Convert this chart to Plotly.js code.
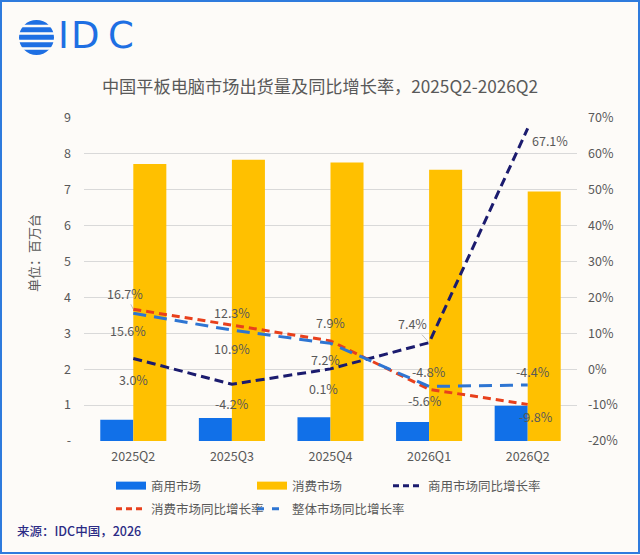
<!DOCTYPE html>
<html><head><meta charset="utf-8">
<script src="https://cdn.plot.ly/plotly-3.0.1.min.js"></script>
<style>html,body{margin:0;padding:0;background:#FDFBF8}#chart{width:640px;height:555px}</style>
</head><body><div id="chart"></div>
<script>
// ---- data ----
const categories = ['2025Q2', '2025Q3', '2025Q4', '2026Q1', '2026Q2'];
const commercialUnits = [0.59, 0.64, 0.66, 0.53, 0.98];
const consumerUnits = [7.72, 7.84, 7.76, 7.56, 6.95];
const commercialYoY = [3.0, -4.2, 0.1, 7.4, 67.1];
const consumerYoY = [16.7, 12.3, 7.9, -5.6, -9.8];
const totalYoY = [15.6, 10.9, 7.2, -4.8, -4.4];
const leftTickVals = [0, 1, 2, 3, 4, 5, 6, 7, 8, 9];
const leftTickText = ['-', '1', '2', '3', '4', '5', '6', '7', '8', '9'];
const rightTickVals = [-20, -10, 0, 10, 20, 30, 40, 50, 60, 70];
const rightTickText = ['-20%', '-10%', '0%', '10%', '20%', '30%', '40%', '50%', '60%', '70%'];
const seriesNames = ['商用市场', '消费市场', '商用市场同比增长率', '消费市场同比增长率', '整体市场同比增长率'];
const titleText = '中国平板电脑市场出货量及同比增长率，2025Q2-2026Q2';
const yTitleText = '单位：百万台';
const sourceText = '来源：IDC中国，2026';

// ---- layout constants ----
const W = 640, H = 555, ML = 84, MR = 63, MT = 118, MB = 114;
const PW = W - ML - MR, PH = H - MT - MB;
const px2x = px => (px - ML) / PW;
const py2y = py => (H - MB - py) / PH;
const FONT = '"Noto Sans CJK SC", "Noto Sans", sans-serif';
const GREY = '#595959';
const BG = '#FDFBF8';
const C_BLUE = '#1170E8', C_YELLOW = '#FFC000', C_NAVY = '#1B1B6E', C_RED = '#E8401C', C_MID = '#2E75D2';

// label offsets in screen pixels [dx, dyDown, leader]
const commercialOff = [[0, 21], [0, 19], [-7, 20], [-17, -19, true], [22, 12]];
const consumerOff = [[-8, -16, true], [0, -13], [0, -18], [-4, 11], [8, 12]];
const totalOff = [[-5, 17], [0, 18], [-5, 16], [0, -15], [5, -14]];

const fmt = v => v.toFixed(1) + '%';
const annotations = [];
function addLabels(vals, offs) {
  vals.forEach((v, i) => {
    const o = offs[i];
    const base = {x: categories[i], y: v, xref: 'x', yref: 'y2', text: fmt(v),
      font: {family: FONT, size: 12.5, color: GREY}};
    if (o[2]) {
      annotations.push(Object.assign(base, {showarrow: true, ax: o[0], ay: o[1], arrowhead: 0,
        arrowwidth: 0.7, arrowcolor: '#A6A6A6', standoff: 0}));
    } else {
      annotations.push(Object.assign(base, {showarrow: false, xshift: o[0], yshift: -o[1]}));
    }
  });
}
addLabels(commercialYoY, commercialOff);
addLabels(consumerYoY, consumerOff);
addLabels(totalYoY, totalOff);

// IDC logo letters
[['I', 63], ['D', 85], ['C', 121]].forEach(([t, cx]) => {
  annotations.push({xref: 'paper', yref: 'paper', x: px2x(cx), y: py2y(35.5), text: t, showarrow: false,
    xanchor: 'center', yanchor: 'middle', font: {family: '"DejaVu Sans", sans-serif', size: 37, weight: 400, color: '#1E6FE3'}});
});
// source
annotations.push({xref: 'paper', yref: 'paper', x: px2x(15), y: py2y(530), text: sourceText, showarrow: false,
  xanchor: 'left', yanchor: 'middle', font: {family: FONT, size: 12.5, weight: 500, color: '#2B2B85'}});
// y title
annotations.push({xref: 'paper', yref: 'paper', x: px2x(33), y: py2y(253), text: yTitleText, showarrow: false,
  textangle: -90, xanchor: 'center', yanchor: 'middle', font: {family: FONT, size: 13, color: GREY}});

// shapes: border and logo circle
const shapes = [
  {type: 'rect', xref: 'paper', yref: 'paper', x0: px2x(1), x1: px2x(639), y0: py2y(553), y1: py2y(1),
    line: {color: '#2E7BDD', width: 2}, fillcolor: 'rgba(0,0,0,0)', layer: 'above'},
  {type: 'circle', xref: 'paper', yref: 'paper', x0: px2x(19), x1: px2x(54), y0: py2y(55), y1: py2y(20),
    line: {width: 0}, fillcolor: '#1E6FE3', layer: 'above'}
];
[26, 33.5, 41, 48.5].forEach(g => {
  shapes.push({type: 'rect', xref: 'paper', yref: 'paper', x0: px2x(17), x1: px2x(56), y0: py2y(g + 1.3), y1: py2y(g - 1.3),
    line: {width: 0}, fillcolor: BG, layer: 'above'});
});

const traces = [
  {type: 'bar', x: categories, y: commercialUnits, name: seriesNames[0], marker: {color: C_BLUE}, showlegend: false, yaxis: 'y'},
  {type: 'bar', x: categories, y: consumerUnits, name: seriesNames[1], marker: {color: C_YELLOW}, showlegend: false, yaxis: 'y'},
  {type: 'scatter', mode: 'lines', x: categories, y: commercialYoY, name: seriesNames[2], yaxis: 'y2',
    line: {color: C_NAVY, width: 3, dash: '9px,5px'}, showlegend: false},
  {type: 'scatter', mode: 'lines', x: categories, y: consumerYoY, name: seriesNames[3], yaxis: 'y2',
    line: {color: C_RED, width: 3, dash: '8px,5px'}, showlegend: false},
  {type: 'scatter', mode: 'lines', x: categories, y: totalYoY, name: seriesNames[4], yaxis: 'y2',
    line: {color: C_MID, width: 3, dash: '13px,8px'}, showlegend: false},
  // legend entries
  {type: 'scatter', mode: 'lines', x: [null], y: [null], name: seriesNames[0], line: {color: C_BLUE, width: 8}, legend: 'legend'},
  {type: 'scatter', mode: 'lines', x: [null], y: [null], name: seriesNames[1], line: {color: C_YELLOW, width: 8}, legend: 'legend'},
  {type: 'scatter', mode: 'lines', x: [null], y: [null], name: seriesNames[2], line: {color: C_NAVY, width: 3, dash: '6px,4px'}, legend: 'legend3'},
  {type: 'scatter', mode: 'lines', x: [null], y: [null], name: seriesNames[3], yaxis: 'y2', line: {color: C_RED, width: 3, dash: '6px,4px'}, legend: 'legend2'},
  {type: 'scatter', mode: 'lines', x: [null], y: [null], name: seriesNames[4], yaxis: 'y2', line: {color: C_MID, width: 3, dash: '7px,8px'}, legend: 'legend2'},
  {type: 'scatter', mode: 'lines', x: [null], y: [null], name: '\u00a0', yaxis: 'y2', line: {color: 'rgba(0,0,0,0)', width: 0}, legend: 'legend2'}
];

const legendBase = {orientation: 'h', xref: 'paper', yref: 'paper', xanchor: 'left', yanchor: 'middle',
  font: {family: FONT, size: 12.5, color: GREY}, bgcolor: 'rgba(0,0,0,0)', entrywidth: 96, entrywidthmode: 'pixels',
  itemwidth: 30, traceorder: 'normal'};

const layout = {
  width: W, height: H,
  margin: {l: ML, r: MR, t: MT, b: MB},
  paper_bgcolor: BG, plot_bgcolor: BG,
  font: {family: FONT, color: GREY},
  title: {text: titleText, font: {family: FONT, size: 17.2, color: GREY}, x: 0.5, xref: 'container',
    y: 1 - 87 / H, yref: 'container', yanchor: 'middle', xanchor: 'center'},
  barmode: 'group', bargap: 0.33, bargroupgap: 0,
  xaxis: {type: 'category', showgrid: false, zeroline: false, showline: false, ticks: '',
    tickfont: {family: FONT, size: 12.5, color: GREY}, ticklabelstandoff: 6},
  yaxis: {range: [0, 9], tickvals: leftTickVals, ticktext: leftTickText, showgrid: true, gridcolor: '#D9D9D9',
    gridwidth: 1, zeroline: false, showline: false, ticks: '', tickfont: {family: FONT, size: 12.5, color: GREY},
    ticklabelstandoff: 12},
  yaxis2: {range: [-20, 70], tickvals: rightTickVals, ticktext: rightTickText, overlaying: 'y', side: 'right',
    showgrid: false, zeroline: false, showline: false, ticks: '', tickfont: {family: FONT, size: 12.5, color: GREY},
    ticklabelstandoff: 10},
  legend: Object.assign({}, legendBase, {x: px2x(111), y: py2y(486)}),
  legend2: Object.assign({}, legendBase, {x: px2x(111), y: py2y(509)}),
  legend3: Object.assign({}, legendBase, {x: px2x(388), y: py2y(486)}),
  annotations: annotations,
  shapes: shapes
};
delete layout.legend3.entrywidth;
delete layout.legend3.entrywidthmode;

Plotly.newPlot('chart', traces, layout, {displayModeBar: false, staticPlot: true});
</script></body></html>
